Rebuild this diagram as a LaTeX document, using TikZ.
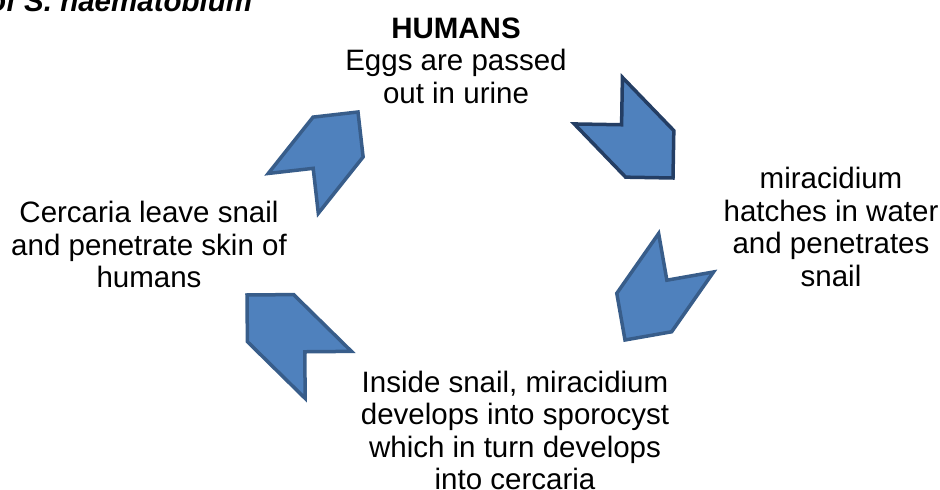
\documentclass[tikz,border=0pt]{standalone}
\usepackage{fontspec}
\setmainfont{Liberation Sans}
\definecolor{chevfill}{RGB}{79,129,189}
\definecolor{chevline}{RGB}{56,93,138}
\definecolor{chevdark}{RGB}{36,62,100}

\begin{document}
\begin{tikzpicture}[x=1pt, y=1pt,
    every node/.style={font=\fontsize{29.5}{32.5}\selectfont, align=center, inner sep=0pt},
    chevron/.style={fill=chevfill, draw=#1, line width=3.5pt, line join=miter}]
    \useasboundingbox (0,0) rectangle (940,490);
    % title, cut off by the top edge
    \node[anchor=base west, font=\fontsize{29.5}{32.5}\selectfont\bfseries\itshape] (title) at (-12,478) {of S. haematobium};

    % chevrons: tip x/tip y/angle/length/height/edge colour
    \foreach \x/\y/\a/\l/\h/\c in {358/378/51.5/72/64/chevline, 673/312/-46/74/67/chevdark, 625/150/235/73/67/chevline, 247/195/135.5/81/66/chevline} {
        \draw[chevron=\c, shift={(\x,\y)}, rotate=\a] (0,0) -- (-\h/2,\h/2) -- (-\h/2-\l,\h/2) -- (-\l,0) -- (-\h/2-\l,-\h/2) -- (-\h/2,-\h/2) -- cycle;
    }

    \node (humans) at (456,429.5) {\textbf{HUMANS}\\Eggs are passed\\out in urine};
    \node (hatch) at (831,263) {miracidium\\hatches in water\\and penetrates\\snail};
    \node (inside) at (515,59.5) {Inside snail, miracidium\\develops into sporocyst\\which in turn develops\\into cercaria};
    \node (leave) at (149,245.5) {Cercaria leave snail\\and penetrate skin of\\humans};
\end{tikzpicture}
\end{document}
